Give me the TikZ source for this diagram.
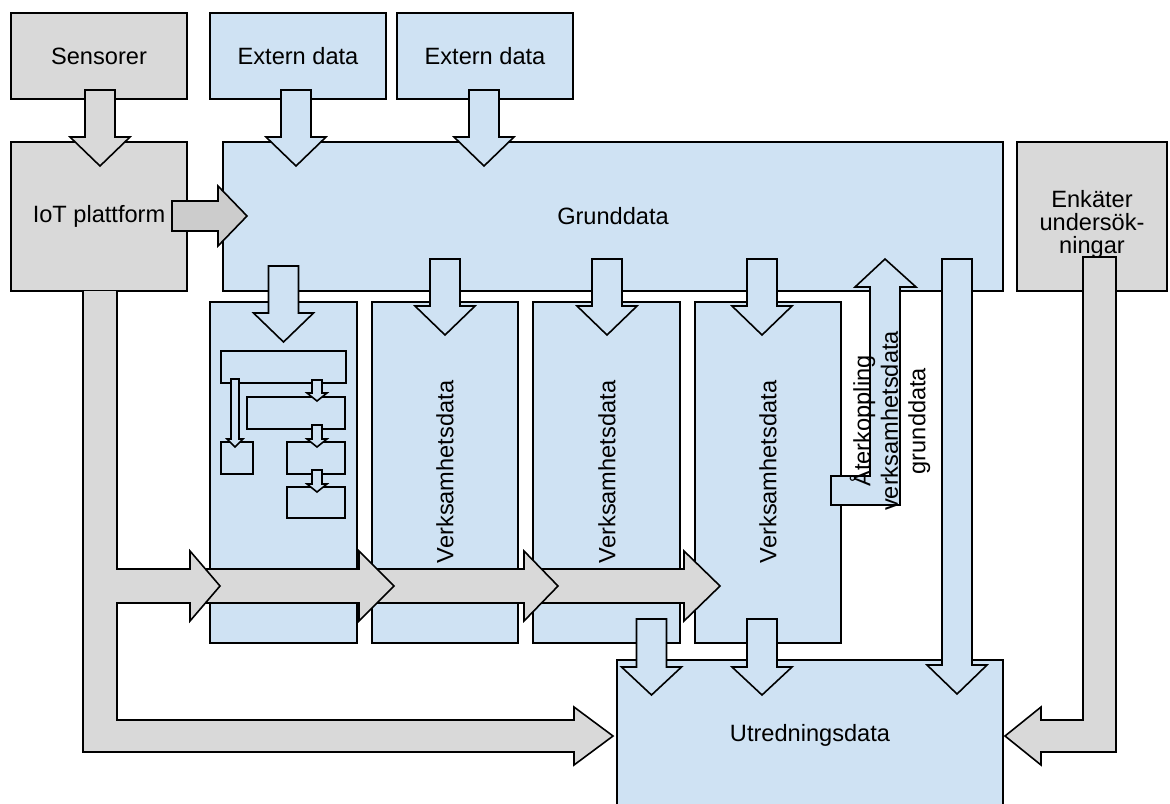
\documentclass[tikz,border=0pt]{standalone}
\usepackage{fontspec}
\setmainfont{Liberation Sans}
\definecolor{boxblue}{HTML}{CFE2F3}
\definecolor{boxgrey}{HTML}{D9D9D9}
\definecolor{arrowgrey}{HTML}{CCCCCC}
\pgfdeclarelayer{boxlayer}
\pgfdeclarelayer{arrowlayer}
\pgfsetlayers{boxlayer,arrowlayer,main}
\tikzstyle{none}=[inner sep=0pt]
\tikzstyle{bluebox}=[rectangle,fill=boxblue,draw=black,line width=0.8pt]
\tikzstyle{greybox}=[rectangle,fill=boxgrey,draw=black,line width=0.8pt]
\tikzstyle{bluearrow}=[fill=boxblue,draw=black,line width=0.8pt]
\tikzstyle{greyarrow}=[fill=boxgrey,draw=black,line width=0.8pt]

\begin{document}
\begin{tikzpicture}[x=0.5pt,y=-0.5pt,font=\fontsize{11.8}{14}\selectfont]
	\useasboundingbox (0,0) rectangle (1170,803);
	\begin{pgfonlayer}{boxlayer}
		\node [style=greybox, minimum width=88pt, minimum height=43pt] (0) at (99, 56) {Sensorer};
		\node [style=bluebox, minimum width=88pt, minimum height=43pt] (1) at (298, 56) {Extern data};
		\node [style=bluebox, minimum width=88pt, minimum height=43pt] (2) at (485, 56) {Extern data};
		\node [style=greybox, minimum width=88pt, minimum height=74.5pt] (3) at (99, 216.5) {IoT plattform};
		\node [style=bluebox, minimum width=390pt, minimum height=74.5pt] (4) at (613, 216.5) {Grunddata};
		\node [style=greybox, minimum width=75pt, minimum height=74.5pt] (5) at (1092, 216.5) {};
		\node [style=bluebox, minimum width=73.5pt, minimum height=170.5pt] (6) at (283.5, 472.5) {};
		\node [style=bluebox, minimum width=73pt, minimum height=170.5pt] (7) at (445, 472.5) {};
		\node [style=bluebox, minimum width=73.5pt, minimum height=170.5pt] (8) at (606.5, 472.5) {};
		\node [style=bluebox, minimum width=73pt, minimum height=170.5pt] (9) at (768, 472.5) {};
		\node [style=bluebox, minimum width=193pt, minimum height=80pt] (10) at (810, 740) {};
		\node [style=bluebox, minimum width=62.5pt, minimum height=16pt] (11) at (283.5, 367) {};
		\node [style=bluebox, minimum width=49pt, minimum height=16pt] (12) at (296, 413) {};
		\node [style=bluebox, minimum width=16pt, minimum height=16pt] (13) at (237, 458) {};
		\node [style=bluebox, minimum width=29pt, minimum height=16pt] (14) at (316, 458) {};
		\node [style=bluebox, minimum width=29pt, minimum height=15.5pt] (15) at (316, 502.5) {};
		\node [style=none, rotate=90] (16) at (445, 472) {Verksamhetsdata};
		\node [style=none, rotate=90] (17) at (607, 472) {Verksamhetsdata};
		\node [style=none, rotate=90] (18) at (768, 472) {Verksamhetsdata};
		\node [style=none, align=center, font=\fontsize{11.8}{11.5}\selectfont] (19) at (1092, 224) {Enkäter\\undersök-\\ningar};
		\node [style=none] (20) at (810, 735) {Utredningsdata};
	\end{pgfonlayer}
	\begin{pgfonlayer}{arrowlayer}
		\draw [style=greyarrow] (85,90) -- (115,90) -- (115,137) -- (130,137) -- (100,166) -- (70,137) -- (85,137) -- cycle;
		\draw [style=bluearrow] (281,90) -- (311,90) -- (311,137) -- (326,137) -- (296,166) -- (266,137) -- (281,137) -- cycle;
		\draw [style=bluearrow] (469,90) -- (499,90) -- (499,137) -- (514,137) -- (484,166) -- (454,137) -- (469,137) -- cycle;
		\draw [fill=arrowgrey, draw=black, line width=0.8pt] (172,201) -- (218,201) -- (218,186) -- (247,216) -- (218,246) -- (218,231) -- (172,231) -- cycle;
		\draw [style=bluearrow] (268.5,266) -- (298.5,266) -- (298.5,313) -- (313.5,313) -- (283.5,342) -- (253.5,313) -- (268.5,313) -- cycle;
		\draw [style=bluearrow] (430,259) -- (460,259) -- (460,306) -- (475,306) -- (445,335) -- (415,306) -- (430,306) -- cycle;
		\draw [style=bluearrow] (592,259) -- (622,259) -- (622,306) -- (637,306) -- (607,335) -- (577,306) -- (592,306) -- cycle;
		\draw [style=bluearrow] (747,259) -- (777,259) -- (777,306) -- (792,306) -- (762,335) -- (732,306) -- (747,306) -- cycle;
		\draw [style=bluearrow] (942,259) -- (972,259) -- (972,665) -- (987,665) -- (957,694) -- (927,665) -- (942,665) -- cycle;
		\draw [style=bluearrow] (636.5,619) -- (666.5,619) -- (666.5,667) -- (681.5,667) -- (651.5,695) -- (621.5,667) -- (636.5,667) -- cycle;
		\draw [style=bluearrow] (747,619) -- (777,619) -- (777,667) -- (792,667) -- (762,695) -- (732,667) -- (747,667) -- cycle;
		% flow inside the first column
		\draw [style=bluearrow] (231,379) -- (239,379) -- (239,439) -- (243,439) -- (235,447) -- (227,439) -- (231,439) -- cycle;
		\draw [style=bluearrow] (312,380) -- (322,380) -- (322,393) -- (327,393) -- (317,401) -- (307,393) -- (312,393) -- cycle;
		\draw [style=bluearrow] (312,425) -- (322,425) -- (322,439) -- (327,439) -- (317,447) -- (307,439) -- (312,439) -- cycle;
		\draw [style=bluearrow] (312,470) -- (322,470) -- (322,484) -- (327,484) -- (317,492) -- (307,484) -- (312,484) -- cycle;
		% IoT flow to the columns and Utredningsdata
		\draw [style=greyarrow] (530,569) -- (684,569) -- (684,551) -- (720,586) -- (684,621) -- (684,603) -- (530,603) -- cycle;
		\draw [style=greyarrow] (370,569) -- (524,569) -- (524,551) -- (558,586) -- (524,621) -- (524,603) -- (370,603) -- cycle;
		\draw [style=greyarrow] (200,569) -- (359,569) -- (359,551) -- (394,586) -- (359,621) -- (359,603) -- (200,603) -- cycle;
		\draw [style=greyarrow] (117,291) -- (117,569) -- (190,569) -- (190,551) -- (220,586) -- (190,621) -- (190,603) -- (117,603) -- (117,720) -- (574,720) -- (574,707) -- (613,736) -- (574,765) -- (574,752) -- (83,752) -- (83,291);
		\draw [style=greyarrow] (1083,257) -- (1116,257) -- (1116,752) -- (1041,752) -- (1041,765) -- (1005,736) -- (1041,707) -- (1041,720) -- (1083,720) -- cycle;
		\draw [style=bluearrow] (885,259) -- (916,287) -- (900,287) -- (900,505) -- (831,505) -- (831,476) -- (870,476) -- (870,287) -- (855,287) -- cycle;
	\end{pgfonlayer}
	\node [style=none, rotate=90, align=center, font=\fontsize{11.8}{13.75}\selectfont] (21) at (890, 421) {Återkoppling\\verksamhetsdata\\grunddata};
\end{tikzpicture}
\end{document}
